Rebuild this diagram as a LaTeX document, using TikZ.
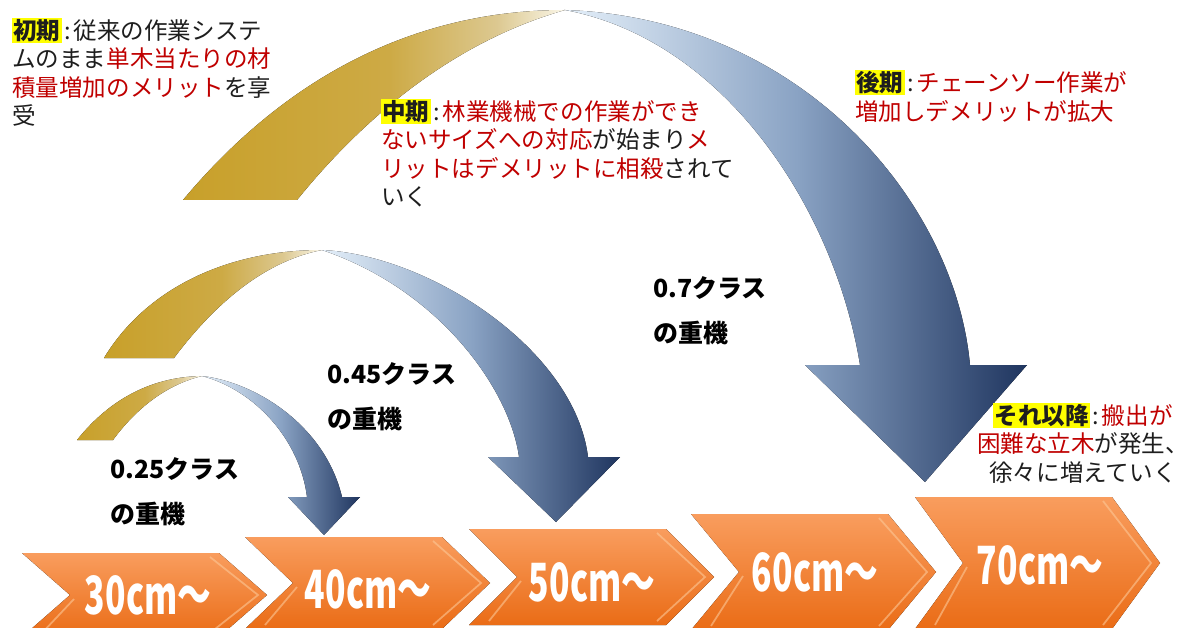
\documentclass[tikz,border=0pt]{standalone}
\usepackage{fontspec}
\usepackage{graphicx}
\setmainfont{Noto Sans CJK JP}
\definecolor{jred}{HTML}{C00000}
\definecolor{jblk}{HTML}{1E1E1E}
\definecolor{hly}{HTML}{FFFF00}
\definecolor{gold1}{HTML}{C8A02A}
\definecolor{goldm}{HTML}{CDAA45}
\definecolor{goldn}{HTML}{DCC890}
\definecolor{gold3}{HTML}{FAF6E8}
\definecolor{blue1}{HTML}{E4EFF9}
\definecolor{blue2}{HTML}{8AA3C4}
\definecolor{blue3}{HTML}{1F355F}
\definecolor{or1}{HTML}{F99D5E}
\definecolor{or2}{HTML}{EA6C16}
\definecolor{orhi}{HTML}{FCC796}
\pgfdeclarehorizontalshading{goldsh}{100bp}{color(0bp)=(gold1); color(25bp)=(gold1); color(52bp)=(goldm); color(66bp)=(goldn); color(75bp)=(gold3); color(100bp)=(gold3)}
\pgfdeclarehorizontalshading{bluesh}{100bp}{color(0bp)=(blue1); color(25bp)=(blue1); color(50bp)=(blue2); color(75bp)=(blue3); color(100bp)=(blue3)}
\newcommand\hlt[1]{{\setlength{\fboxsep}{0.6pt}\colorbox{hly}{\bfseries #1}}}
\newcommand\rd[1]{\textcolor{jred}{#1}}
\newcommand\cln{\hspace{0.12em}:\hspace{0.12em}}
\newcommand\mychev[3]{%
  \fill[chevbox] (#1,#2) -- (#1+197,#2) -- (#1+245,#3) -- (#1+197,2*#3-#2) -- (#1,2*#3-#2) -- (#1+48,#3) -- cycle;
  \draw[chevhi] (#1+188,#2+4) -- (#1+236,#3) -- (#1+188,2*#3-#2-4);
  \draw[chevhi] (#1+52,#3+4) -- (#1+20,2*#3-#2-4);
}
\begin{document}
\begin{tikzpicture}[x=0.02cm,y=-0.02cm,
  goldband/.style={shading=goldsh, draw=none},
  blueband/.style={shading=bluesh, draw=none},
  chevbox/.style={top color=or1, bottom color=or2, draw=none},
  chevhi/.style={draw=orhi, line width=1pt, opacity=0.6},
  chevtxt/.style={text=white, font=\bfseries\fontsize{30}{32}\selectfont, inner sep=0},
  note/.style={inner sep=0, anchor=north west, align=left, text=jblk, font=\fontsize{13.4}{16.2}\selectfont},
  klass/.style={inner sep=0, anchor=north west, align=left, text=black, font=\bfseries\fontsize{14.2}{25.6}\selectfont}
]
\useasboundingbox (0,0) rectangle (1189,628);
\clip (0,0) rectangle (1189,628);
\fill[white] (0,0) rectangle (1189,628);

% chevrons
\mychev{22}{553}{595}
\mychev{245}{537}{583}
\mychev{469}{529}{577}
\mychev{691}{514}{572}
\mychev{915}{497}{563}

\node[chevtxt] (c30) at (148,595) {\scalebox{0.64}[1]{30cm～}};
\node[chevtxt] (c40) at (368,589) {\scalebox{0.64}[1]{40cm～}};
\node[chevtxt] (c50) at (592,582) {\scalebox{0.64}[1]{50cm～}};
\node[chevtxt] (c60) at (815,572) {\scalebox{0.64}[1]{60cm～}};
\node[chevtxt] (c70) at (1040,565) {\scalebox{0.64}[1]{70cm～}};

% big arrow
\fill[goldband] (183,200) .. controls (275,90) and (400,10) .. (565,10)
  .. controls (460,40) and (370,110) .. (297,200) -- cycle;
\fill[blueband] (565,10) .. controls (800,18) and (955,200) .. (970,365)
  -- (1027,365) -- (925,482) -- (805,365) -- (860,365)
  .. controls (835,210) and (725,40) .. (565,10) -- cycle;

% middle arrow
\fill[goldband] (104,358) .. controls (145,290) and (225,250) .. (322,250)
  .. controls (260,262) and (210,310) .. (174,358) -- cycle;
\fill[blueband] (322,250) .. controls (430,255) and (575,350) .. (588,457)
  -- (620,457) -- (556,522) -- (488,457) -- (519,457)
  .. controls (510,390) and (440,290) .. (322,250) -- cycle;

% small arrow
\fill[goldband] (77,440) .. controls (105,405) and (145,377) .. (202,376)
  .. controls (165,385) and (135,410) .. (113,440) -- cycle;
\fill[blueband] (202,376) .. controls (255,382) and (325,425) .. (342,497)
  -- (360,497) -- (324,535) -- (288,497) -- (307,497)
  .. controls (300,440) and (255,390) .. (202,376) -- cycle;

% notes
\node[note] (early) at (12,18) {\hlt{初期}\cln 従来の作業システ\\ムのまま\rd{単木当たりの材}\\\rd{積量増加のメリット}を享\\受};
\node[note] (middle) at (381,99) {\hlt{中期}\cln\rd{林業機械での作業ができ}\\\rd{ないサイズへの対応}が始まり\rd{メ}\\\rd{リットはデメリットに相殺}されて\\いく};
\node[note] (late) at (855,70) {\hlt{後期}\cln\rd{チェーンソー作業が}\\\rd{増加しデメリットが拡大}};
\node[note, anchor=north, align=center] (after) at (1083,403) {\hlt{それ以降}\cln\rd{搬出が}\\\rd{困難な立木}が発生、\\徐々に増えていく};

% class labels
\node[klass] (k25) at (110,457) {0.25クラス\\の重機};
\node[klass] (k45) at (327,362) {0.45クラス\\の重機};
\node[klass] (k70) at (653,276) {0.7クラス\\の重機};
\end{tikzpicture}
\end{document}
